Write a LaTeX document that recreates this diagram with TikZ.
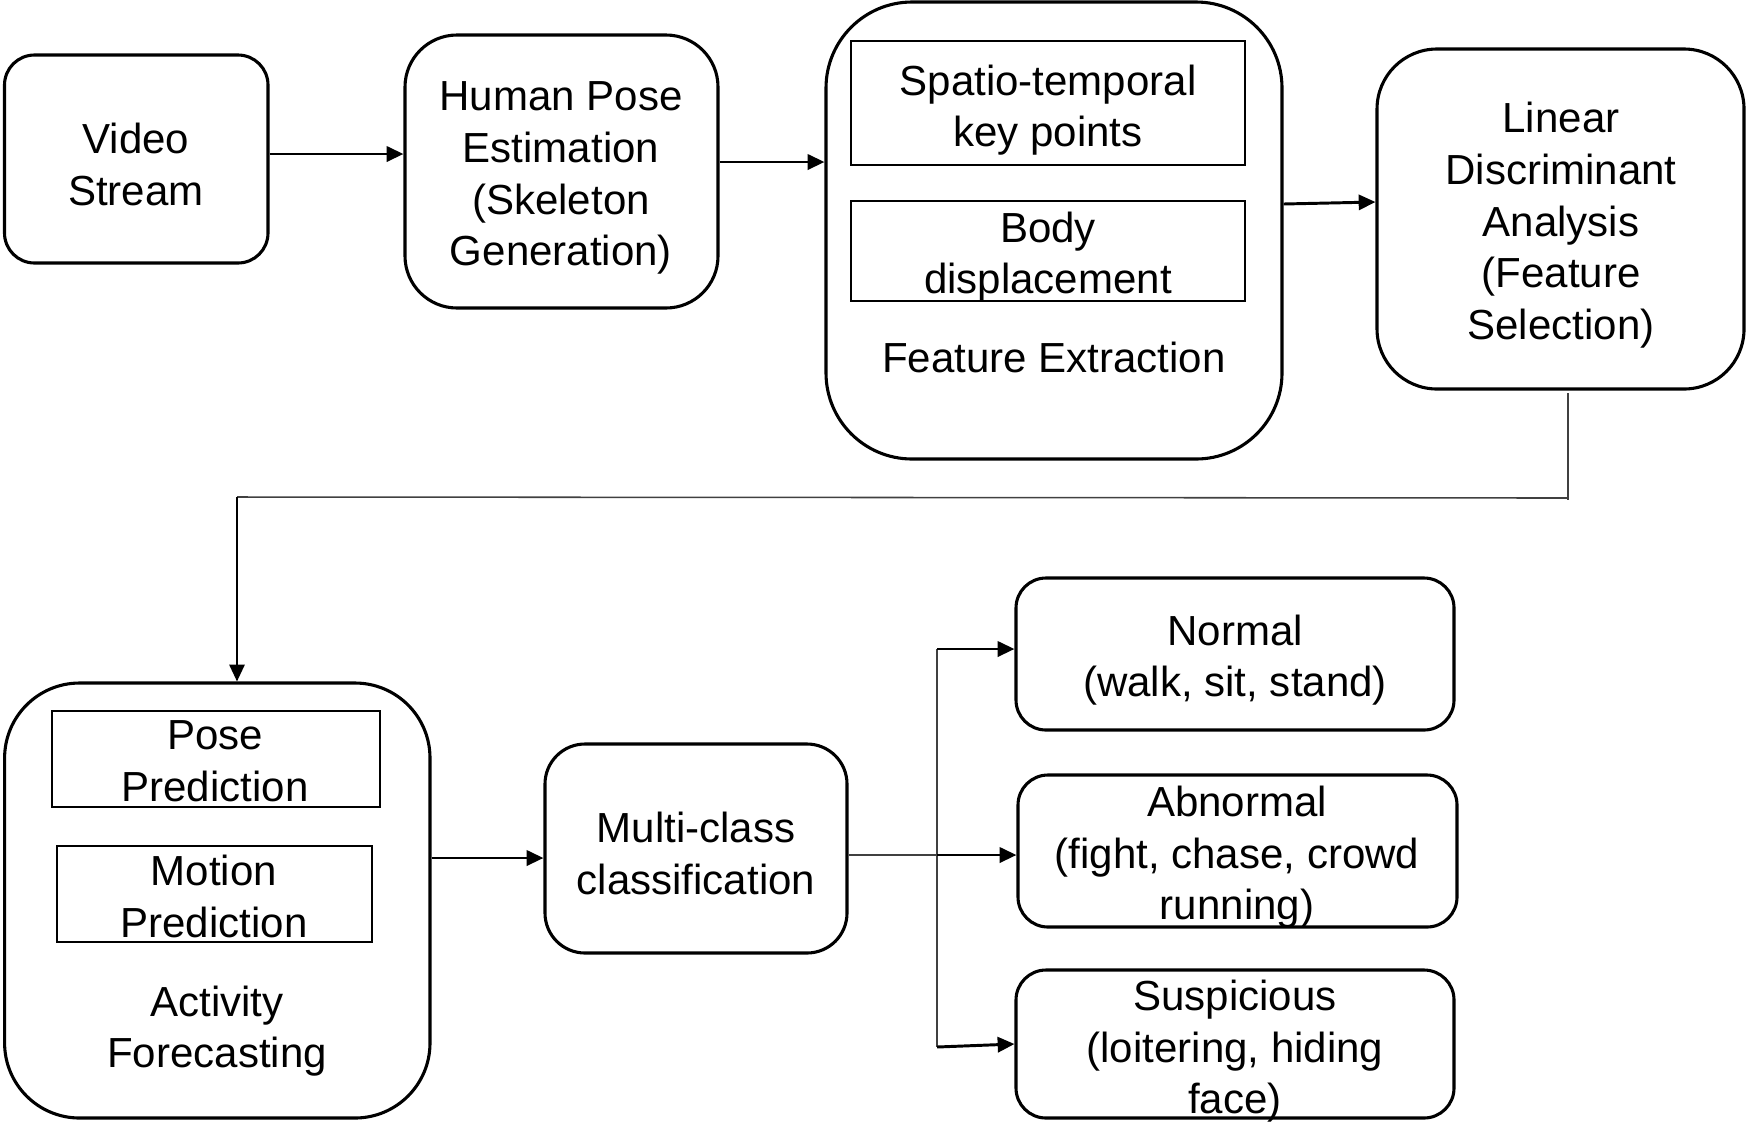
\documentclass[tikz,border=0pt]{standalone}
\usepackage{fontspec}
\setmainfont{Liberation Sans}
\usetikzlibrary{arrows.meta,fit}
\newcommand\fsz{\fontsize{29.9}{36.7}\selectfont}
\tikzset{
  rbox/.style={draw, line width=2.2pt, inner sep=0pt},
  ibox/.style={draw, line width=1.9pt, inner sep=0pt},
  lbl/.style={inner sep=0pt, align=center, font=\fsz, yshift=-0.08cm},
  arr/.style={line width=2.1pt, -{Triangle[length=0.42cm,width=0.38cm]}},
  thinln/.style={line width=1.1pt, black!75},
}
\begin{document}
\begin{tikzpicture}[x=0.025cm, y=-0.025cm]
\useasboundingbox (0,0) rectangle (1746,1121);
% top row
\node[rbox, rounded corners=0.75cm, fit={(4.5,55) (268,263)}] (vs) {};
\node[lbl] (vsl) at (136,161) {Video\\Stream};
\node[rbox, rounded corners=1.3cm, fit={(405,35) (718,308)}] (hpe) {};
\node[lbl] (hpel) at (561,175) {Human Pose\\Estimation\\(Skeleton\\Generation)};
\node[rbox, rounded corners=2.15cm, fit={(826,2) (1282,459)}] (fe) {};
\node[ibox, fit={(851,41) (1245,165)}] (st) {};
\node[lbl] (stl) at (1048,107) {Spatio-temporal\\key points};
\node[ibox, fit={(851,201) (1245,301)}] (bd) {};
\node[lbl] (bdl) at (1048,254) {Body\\displacement};
\node[lbl] (fel) at (1054,354) {Feature Extraction};
\node[rbox, rounded corners=1.5cm, fit={(1377,49) (1744,389)}] (lda) {};
\node[lbl] (ldal) at (1561,222) {Linear\\Discriminant\\Analysis\\(Feature\\Selection)};
% bottom row
\node[rbox, rounded corners=1.875cm, fit={(4.6,683) (430,1118)}] (af) {};
\node[ibox, fit={(52,711) (380,807)}] (pp) {};
\node[lbl] (ppl) at (215,758) {Pose\\Prediction};
\node[ibox, fit={(57,846) (372,942)}] (mp) {};
\node[lbl] (mpl) at (214,893) {Motion\\Prediction};
\node[lbl] (afl) at (217,1028) {Activity\\Forecasting};
\node[rbox, rounded corners=1cm, fit={(545,744) (847,953)}] (mc) {};
\node[lbl] (mcl) at (696,850) {Multi-class\\classification};
\node[rbox, rounded corners=0.75cm, fit={(1016,578) (1454,730)}] (nor) {};
\node[lbl] (norl) at (1235,657) {Normal\\(walk, sit, stand)};
\node[rbox, rounded corners=0.75cm, fit={(1018,775) (1457,927)}] (abn) {};
\node[lbl] (abnl) at (1237,854) {Abnormal\\(fight, chase, crowd\\running)};
\node[rbox, rounded corners=0.75cm, fit={(1016,970) (1454,1118)}] (sus) {};
\node[lbl] (susl) at (1235,1048) {Suspicious\\(loitering, hiding\\face)};
% connectors
\coordinate (y1) at (0,154);
\coordinate (y2) at (0,162);
\draw[arr] (vs.east |- y1) -- (hpe.west |- y1);
\draw[arr] (hpe.east |- y2) -- (fe.west |- y2);
\coordinate (fa) at (1282,204);
\coordinate (fb) at (1377,202);
\draw[arr] (fe.east |- fa) -- (lda.west |- fb);
\coordinate (l0) at (1568,393);
\coordinate (l1) at (1568,500);
\coordinate (l2) at (237,497);
\draw[thinln] (l0) -- (l1);
\draw[thinln] (1568,498) -- (l2);
\draw[arr, line width=1.5pt] (l2) -- (l2 |- af.north);
\coordinate (am) at (0,858);
\draw[arr] (af.east |- am) -- (mc.west |- am);
\coordinate (bm) at (937,855);
\coordinate (bt) at (937,649);
\coordinate (bb) at (937,1047);
\draw[thinln] (mc.east |- bm) -- (bm);
\draw[thinln] (bt) -- (bb);
\draw[arr] (bt) -- (nor.west |- bt);
\draw[arr] (bm) -- (abn.west |- bm);
\draw[arr] (bb) -- (sus.west);
\end{tikzpicture}
\end{document}
